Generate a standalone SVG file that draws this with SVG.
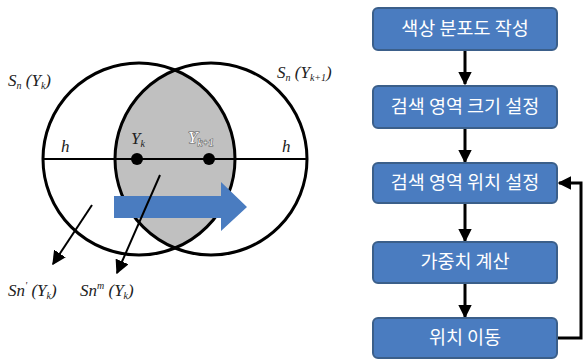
<svg xmlns="http://www.w3.org/2000/svg" width="584" height="360" viewBox="0 0 584 360">
<defs>
<marker id="ah" viewBox="0 0 10 10" refX="9" refY="5" markerWidth="4.5" markerHeight="4.5" orient="auto" markerUnits="strokeWidth">
<path d="M0,0 L10,5 L0,10 z" fill="#000"/>
</marker>
<marker id="ah2" viewBox="0 0 10 10" refX="9" refY="5" markerWidth="7" markerHeight="7" orient="auto" markerUnits="strokeWidth">
<path d="M0,0 L10,5 L0,10 z" fill="#000"/>
</marker>
<clipPath id="lc"><circle cx="139" cy="159" r="96"/></clipPath>
</defs>
<style>
.circ{fill:none;stroke:#000;stroke-width:3}
.box{fill:#4a7cc0;stroke:#3b5f8a;stroke-width:2}
.bt{font-family:"Noto Sans CJK KR","Noto Sans",sans-serif;font-size:18.5px;fill:#fff;text-anchor:middle}
.m{font-family:"Liberation Serif",serif;font-style:italic;font-size:17px;fill:#222}
.ms{font-family:"Liberation Serif",serif;font-style:italic;font-size:10px;fill:#222}
.conn{stroke:#000;stroke-width:3;fill:none}
</style>
<rect width="584" height="360" fill="#fff"/>
<g id="venn">
<circle cx="211" cy="159" r="96" fill="#c0c0c0" clip-path="url(#lc)"/>
<circle class="circ" cx="139" cy="159" r="96"/>
<circle class="circ" cx="211" cy="159" r="96"/>
<line x1="43" y1="159" x2="307" y2="159" stroke="#000" stroke-width="2"/>
<circle cx="137" cy="159" r="6" fill="#000"/>
<circle cx="209" cy="159" r="6" fill="#000"/>
<path d="M114,196 H221 V182 L247,207 L221,231 V218 H114 z" fill="#4a7cc0"/>
<text class="m" x="61" y="152">h</text>
<text class="m" x="282" y="152">h</text>
<text class="m" x="131" y="144">Y<tspan class="ms" dy="3">k</tspan></text>
<text x="188" y="143" font-family="Liberation Serif,serif" font-style="italic" font-size="17" fill="#fff" stroke="#666" stroke-width="1.2" paint-order="stroke">Y<tspan font-size="10" dy="3">k+1</tspan></text>
<text class="m" x="8" y="86">S<tspan class="ms" dy="3">n</tspan><tspan dy="-3"> (Y</tspan><tspan class="ms" dy="3">k</tspan><tspan dy="-3">)</tspan></text>
<text class="m" x="277" y="78">S<tspan class="ms" dy="3">n</tspan><tspan dy="-3"> (Y</tspan><tspan class="ms" dy="3">k+1</tspan><tspan dy="-3">)</tspan></text>
<text class="m" x="8" y="296" font-size="18">Sn<tspan class="ms" dy="-7">'</tspan><tspan dy="7"> (Y</tspan><tspan class="ms" dy="3">k</tspan><tspan dy="-3">)</tspan></text>
<text class="m" x="80" y="296" font-size="18">Sn<tspan class="ms" dy="-7">m</tspan><tspan dy="7"> (Y</tspan><tspan class="ms" dy="3">k</tspan><tspan dy="-3">)</tspan></text>
<line x1="92" y1="205" x2="53" y2="264" stroke="#000" stroke-width="2" marker-end="url(#ah2)"/>
<line x1="160" y1="175" x2="117" y2="273" stroke="#000" stroke-width="2" marker-end="url(#ah2)"/>
</g>
<g id="connectors">
<line class="conn" x1="465" y1="51" x2="465" y2="84" marker-end="url(#ah)"/>
<line class="conn" x1="465" y1="129" x2="465" y2="162" marker-end="url(#ah)"/>
<line class="conn" x1="465" y1="204" x2="465" y2="241" marker-end="url(#ah)"/>
<line class="conn" x1="465" y1="284" x2="465" y2="317" marker-end="url(#ah)"/>
<polyline class="conn" points="558,338 581,338 581,183 559,183" marker-end="url(#ah)"/>
</g>
<g id="n1"><rect class="box" x="373" y="8" width="184" height="42" rx="5"/><text class="bt" x="465" y="35">색상 분포도 작성</text></g>
<g id="n2"><rect class="box" x="373" y="86" width="184" height="42" rx="5"/><text class="bt" x="465" y="113">검색 영역 크기 설정</text></g>
<g id="n3"><rect class="box" x="373" y="163" width="184" height="40" rx="5"/><text class="bt" x="465" y="189">검색 영역 위치 설정</text></g>
<g id="n4"><rect class="box" x="373" y="242" width="184" height="41" rx="5"/><text class="bt" x="465" y="268">가중치 계산</text></g>
<g id="n5"><rect class="box" x="373" y="318" width="184" height="40" rx="5"/><text class="bt" x="465" y="344">위치 이동</text></g>
</svg>
